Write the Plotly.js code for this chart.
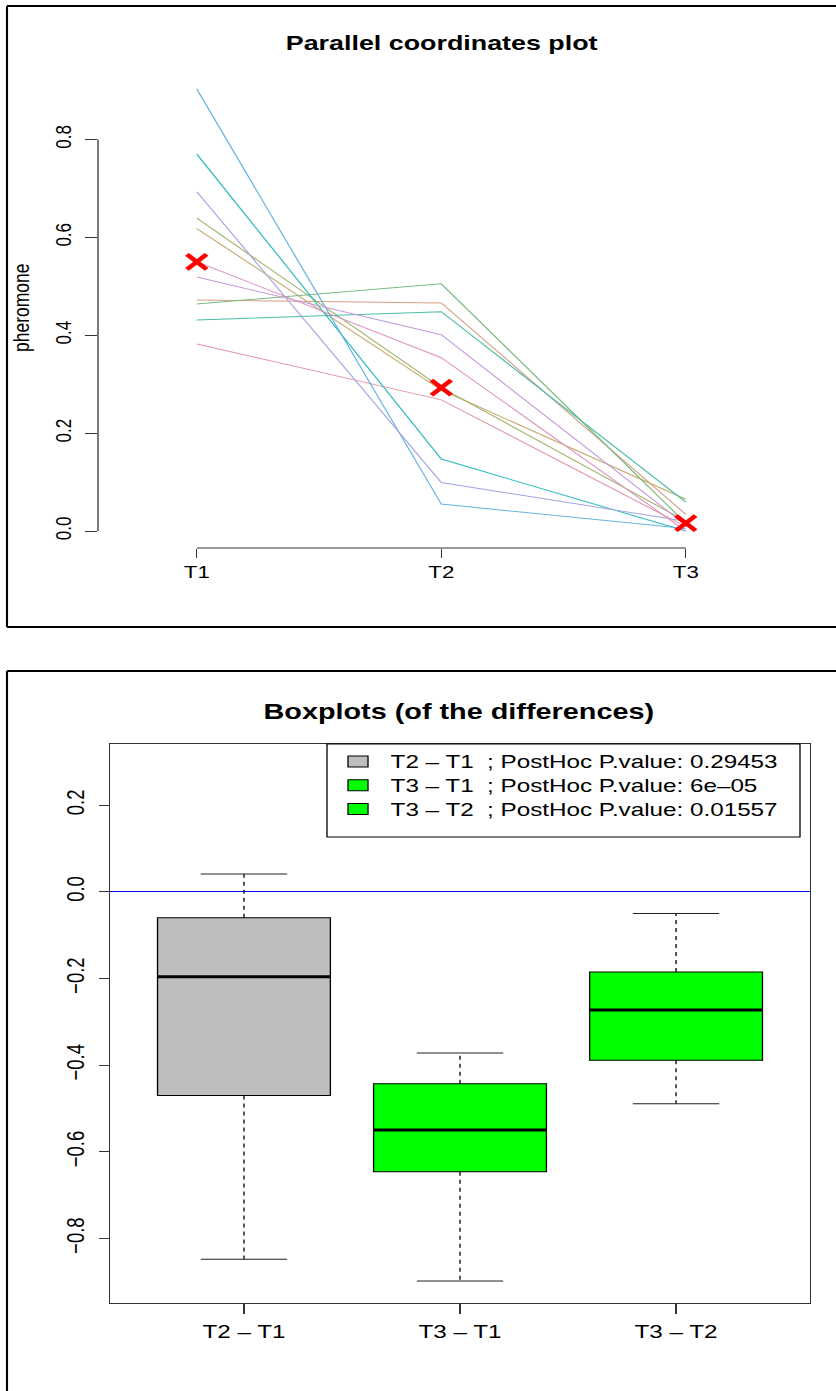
<!DOCTYPE html>
<html><head><meta charset="utf-8">
<script src="https://cdn.plot.ly/plotly-3.0.1.min.js"></script>
<style>
html,body{margin:0;padding:0;background:#fff;overflow:hidden;}
#wrap{width:836px;height:1391px;overflow:hidden;position:relative;background:#fff;}
#plot{width:638px;height:1391px;transform:scaleX(1.3103448);transform-origin:0 0;}
</style></head><body>
<div id="wrap"><div id="plot"></div></div>
<script>
// ---- data ----
const timeLabels = ["T1", "T2", "T3"];
const T1 = [0.382, 0.472, 0.618, 0.639, 0.464, 0.431, 0.770, 0.903, 0.693, 0.519, 0.550];
const T2 = [0.268, 0.466, 0.288, 0.293, 0.505, 0.448, 0.147, 0.055, 0.099, 0.401, 0.354];
const T3 = [0.009, 0.034, 0.065, 0.020, 0.016, 0.059, 0.000, 0.005, 0.020, 0.012, 0.000];
const lineColors = ["#E495A5", "#D99F84", "#C3A96A", "#A1B268", "#78BA7F", "#49BEA6",
                    "#2DBCBF", "#68B3E0", "#A0A7E3", "#C69BDC", "#DE96C2"];
const pairLabels = ["T2 \u2013 T1", "T3 \u2013 T1", "T3 \u2013 T2"];
const pValues = ["0.29453", "6e\u201305", "0.01557"];
const boxFills = ["#BEBEBE", "#00FF00", "#00FF00"];
const yTicksTop = [0, 0.2, 0.4, 0.6, 0.8];
const yTicksBottom = [-0.8, -0.6, -0.4, -0.2, 0, 0.2];

// ---- helpers ----
const W = 836, H = 1391;
const px = x => x / W;
const py = y => 1 - y / H;
const FONT = "Liberation Sans, Arial, Helvetica, sans-serif";
const fmt = v => (v < 0 ? "\u2212" : "") + Math.abs(v).toFixed(1);

function sorted(a){ return a.slice().sort((p,q)=>p-q); }
function median(a){ const s = sorted(a), n = s.length; return n%2 ? s[(n-1)/2] : (s[n/2-1]+s[n/2])/2; }
function fivenum(a){
  const x = sorted(a), n = x.length;
  const n4 = Math.floor((n+3)/2)/2;
  const d = [1, n4, (n+1)/2, n+1-n4, n];
  return d.map(v => 0.5*(x[Math.floor(v)-1] + x[Math.ceil(v)-1]));
}
function boxStats(a){
  const f = fivenum(a);
  const iqr = f[3]-f[1];
  const lo = f[1]-1.5*iqr, hi = f[3]+1.5*iqr;
  const inside = a.filter(v => v >= lo && v <= hi);
  return {q1:f[1], med:f[2], q3:f[3], wlo:Math.min(...inside), whi:Math.max(...inside)};
}

const traces = [];
// parallel coordinates lines
for (let i = 0; i < T1.length; i++) {
  traces.push({type:"scatter", mode:"lines", x:[1,2,3], y:[T1[i], T2[i], T3[i]],
    line:{color:lineColors[i], width:1}, xaxis:"x", yaxis:"y", showlegend:false, hoverinfo:"skip"});
}
// medians
traces.push({type:"scatter", mode:"markers", x:[1,2,3], y:[median(T1), median(T2), median(T3)],
  marker:{symbol:"x-thin", size:15, color:"#FF0000", line:{color:"#FF0000", width:4}},
  xaxis:"x", yaxis:"y", showlegend:false, hoverinfo:"skip"});

// differences
const diffs = [T2.map((v,i)=>v-T1[i]), T3.map((v,i)=>v-T1[i]), T3.map((v,i)=>v-T2[i])];
const stats = diffs.map(boxStats);

stats.forEach((s, k) => {
  const xc = k + 1;
  traces.push({type:"box", x:[xc], q1:[s.q1], median:[s.med], q3:[s.q3],
    lowerfence:[s.q1], upperfence:[s.q3], width:0.8, whiskerwidth:0,
    fillcolor:boxFills[k], line:{color:"#000000", width:1},
    name: pairLabels[k], showlegend:false,
    xaxis:"x2", yaxis:"y2", hoverinfo:"skip", boxpoints:false});
});
stats.forEach((s, k) => {
  const xc = k + 1;
  traces.push({type:"scatter", mode:"lines", x:[xc, xc, null, xc, xc], y:[s.q3, s.whi, null, s.q1, s.wlo],
    line:{color:"#000000", width:1, dash:"4px,4px"}, xaxis:"x2", yaxis:"y2", showlegend:false, hoverinfo:"skip"});
  traces.push({type:"scatter", mode:"lines", x:[xc-0.2, xc+0.2, null, xc-0.2, xc+0.2], y:[s.whi, s.whi, null, s.wlo, s.wlo],
    line:{color:"#222222", width:1}, xaxis:"x2", yaxis:"y2", showlegend:false, hoverinfo:"skip"});
  traces.push({type:"scatter", mode:"lines", x:[xc-0.4, xc+0.4], y:[s.med, s.med],
    line:{color:"#000000", width:3}, xaxis:"x2", yaxis:"y2", showlegend:false, hoverinfo:"skip"});
});

const frame = "#000000";
const shapes = [
  // outer frames
  {type:"line", xref:"paper", yref:"paper", x0:px(7), x1:px(7), y0:py(6), y1:py(627), line:{color:frame, width:1.6}},
  {type:"line", xref:"paper", yref:"paper", x0:px(7), x1:1, y0:py(6), y1:py(6), line:{color:frame, width:2}},
  {type:"line", xref:"paper", yref:"paper", x0:px(7), x1:1, y0:py(627), y1:py(627), line:{color:frame, width:2}},
  {type:"line", xref:"paper", yref:"paper", x0:px(7), x1:px(7), y0:py(671), y1:0, line:{color:frame, width:1.6}},
  {type:"line", xref:"paper", yref:"paper", x0:px(7), x1:1, y0:py(671), y1:py(671), line:{color:frame, width:2}},
  // R-style axis lines of the top panel (only between the extreme ticks)
  {type:"line", xref:"x domain", yref:"y", x0:0, x1:0, y0:yTicksTop[0], y1:yTicksTop[yTicksTop.length-1], line:{color:"#333333", width:1}},
  {type:"line", xref:"x", yref:"y domain", x0:1, x1:3, y0:0, y1:0, line:{color:"#333333", width:1}},
  // legend box
  {type:"rect", xref:"paper", yref:"paper", x0:px(327), x1:px(800), y0:py(744), y1:py(837),
   line:{color:"#000", width:1}, fillcolor:"#fff", layer:"above"}
];

const annotations = [
  {text:"<b>Parallel coordinates plot</b>", xref:"paper", yref:"paper", x:px(441), y:py(42),
   xanchor:"center", yanchor:"middle", showarrow:false, font:{family:FONT, size:20.5, color:"#000"}},
  {text:"pheromone", xref:"paper", yref:"paper", x:px(21), y:py(308), textangle:-90,
   xanchor:"center", yanchor:"middle", showarrow:false, font:{family:FONT, size:17.5, color:"#000"}},
  {text:"<b>Boxplots (of the differences)</b>", xref:"paper", yref:"paper", x:px(458), y:py(711),
   xanchor:"center", yanchor:"middle", showarrow:false, font:{family:FONT, size:22, color:"#000"}}
];

// manual R-style legend
const rowY = [761.5, 785.3, 809];
pairLabels.forEach((lab, k) => {
  shapes.push({type:"rect", xref:"paper", yref:"paper", x0:px(348), x1:px(368), y0:py(rowY[k]+5.5), y1:py(rowY[k]-5.5),
    line:{color:"#000", width:1}, fillcolor:boxFills[k], layer:"above"});
  annotations.push({text: lab + "\u00a0\u00a0; PostHoc P.value: " + pValues[k], xref:"paper", yref:"paper",
    x:px(388), y:py(rowY[k]), xanchor:"left", yanchor:"middle", showarrow:false,
    font:{family:FONT, size:18.5, color:"#000"}});
});

const layout = {
  width:638, height:1391, margin:{l:0, r:0, t:0, b:0}, paper_bgcolor:"#fff", plot_bgcolor:"#fff",
  font:{family:FONT, color:"#000"},
  showlegend:false,
  xaxis:{domain:[px(98), px(784.6)], range:[0.596, 3.404], anchor:"y", tickvals:[1,2,3], ticktext:timeLabels,
    ticks:"outside", ticklen:9, tickcolor:"#333", showline:false, showgrid:false, zeroline:false,
    tickfont:{family:FONT, size:17}, automargin:false, fixedrange:true},
  yaxis:{domain:[py(548), py(71.4)], range:[-0.0347, 0.939], anchor:"x", tickvals:yTicksTop,
    ticktext:yTicksTop.map(fmt),
    tickangle:-90, ticks:"outside", ticklen:9, tickcolor:"#333", showline:false, showgrid:false, zeroline:false,
    ticklabelstandoff:4, tickfont:{family:FONT, size:17}, automargin:false, fixedrange:true},
  xaxis2:{domain:[px(110), px(810)], range:[0.38, 3.62], anchor:"y2", tickvals:[1,2,3], ticktext:pairLabels,
    ticks:"outside", ticklen:10, tickcolor:"#333", showline:true, mirror:true, linecolor:"#333", linewidth:1,
    showgrid:false, zeroline:false, ticklabelstandoff:2, tickfont:{family:FONT, size:18.5}, automargin:false, fixedrange:true},
  yaxis2:{domain:[py(1303), py(744)], range:[-0.949, 0.341], anchor:"x2", tickvals:yTicksBottom,
    ticktext:yTicksBottom.map(fmt),
    tickangle:-90, ticks:"outside", ticklen:7.6, tickcolor:"#333", showline:true, mirror:true, linecolor:"#333", linewidth:1,
    showgrid:false, zeroline:true, zerolinecolor:"#0000FF", zerolinewidth:1,
    ticklabelstandoff:4, tickfont:{family:FONT, size:18.5}, automargin:false, fixedrange:true},
  shapes:shapes, annotations:annotations
};

Plotly.newPlot("plot", traces, layout, {staticPlot:true, displayModeBar:false});
</script>
</body></html>
